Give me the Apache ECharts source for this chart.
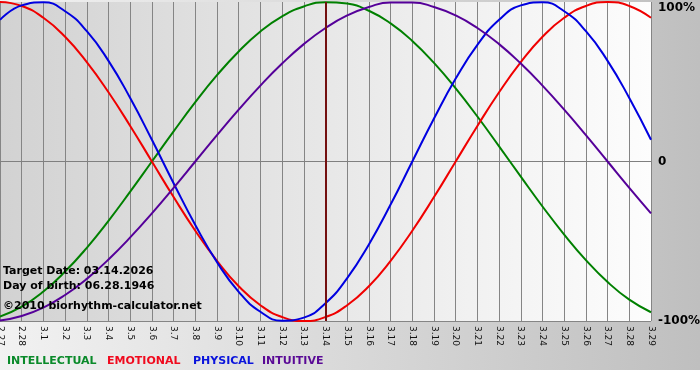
<!DOCTYPE html>
<html>
<head>
<meta charset="utf-8">
<script src="https://cdn.jsdelivr.net/npm/echarts@6/dist/echarts.min.js"></script>
<style>
  html, body { margin: 0; padding: 0; background: #fff; }
  #chart { width: 700px; height: 380px; }
</style>
</head>
<body>
<div id="chart"></div>
<script>
// days shown on the x axis (month.day)
var days = ['2.27', '2.28', '3.1', '3.2', '3.3', '3.4', '3.5', '3.6', '3.7', '3.8', '3.9', '3.10',
  '3.11', '3.12', '3.13', '3.14', '3.15', '3.16', '3.17', '3.18', '3.19', '3.20', '3.21', '3.22',
  '3.23', '3.24', '3.25', '3.26', '3.27', '3.28', '3.29'];
var targetDay = '3.14';

// cycle values in percent, one per day
var intellectual = [-97.2, -91.0, -81.5, -69.0, -54.1, -37.2, -18.9, 0, 18.9, 37.2, 54.1, 69.0,
  81.5, 91.0, 97.2, 99.9, 99.0, 94.5, 86.6, 75.6, 61.8, 45.8, 28.2, 9.5, -9.5, -28.2, -45.8,
  -61.8, -75.6, -86.6, -94.5];
var emotional = [100, 97.5, 90.1, 78.2, 62.3, 43.4, 22.3, 0, -22.3, -43.4, -62.3, -78.2, -90.1,
  -97.5, -100, -97.5, -90.1, -78.2, -62.3, -43.4, -22.3, 0, 22.3, 43.4, 62.3, 78.2, 90.1, 97.5,
  100, 97.5, 90.1];
var physical = [88.8, 97.9, 99.8, 94.2, 81.7, 63.1, 39.8, 13.6, -13.6, -39.8, -63.1, -81.7,
  -94.2, -99.8, -97.9, -88.8, -73.1, -52.0, -27.0, 0, 27.0, 52.0, 73.1, 88.8, 97.9, 99.8, 94.2,
  81.7, 63.1, 39.8, 13.6];
var intuitive = [-99.7, -96.9, -91.6, -83.7, -73.6, -61.4, -47.6, -32.5, -16.5, 0, 16.5, 32.5,
  47.6, 61.4, 73.6, 83.7, 91.6, 96.9, 99.7, 99.7, 96.9, 91.6, 83.7, 73.6, 61.4, 47.6, 32.5, 16.5,
  0, -16.5, -32.5];

var infoLines = ['Target Date: 03.14.2026', 'Day of birth: 06.28.1946', '\u00a92010 biorhythm-calculator.net'];

var chart = echarts.init(document.getElementById('chart'));
var font = '"DejaVu Sans", Verdana, sans-serif';

function line(name, color, data) {
  return {
    name: name,
    type: 'line',
    data: data,
    smooth: true,
    symbol: 'none',
    lineStyle: { color: color, width: 2 },
    itemStyle: { color: color }
  };
}

var series = [
  line('INTELLECTUAL', '#008000', intellectual),
  line('EMOTIONAL', '#f00000', emotional),
  line('PHYSICAL', '#0000e0', physical),
  line('INTUITIVE', '#550099', intuitive)
];
// today marker
series[1].markLine = {
  silent: true,
  symbol: 'none',
  label: { show: false },
  lineStyle: { color: '#731010', width: 2, type: 'solid' },
  data: [{ xAxis: targetDay }]
};

var legendItems = [
  { text: 'INTELLECTUAL', color: '#0a8a2a', x: 7 },
  { text: 'EMOTIONAL', color: '#f00a1e', x: 107 },
  { text: 'PHYSICAL', color: '#0a14dc', x: 193 },
  { text: 'INTUITIVE', color: '#5a0a96', x: 262 }
];

var graphics = [{
  type: 'rect',
  z: -100,
  silent: true,
  shape: { x: 0, y: 0, width: 700, height: 370 },
  style: {
    fill: new echarts.graphic.LinearGradient(0, 0, 1, 0, [
      { offset: 0, color: '#f2f2f2' },
      { offset: 1, color: '#bfbfbf' }
    ])
  }
}];
legendItems.forEach(function(it) {
  graphics.push({
    type: 'text', left: it.x, top: 356, z: 100,
    style: { text: it.text, fill: it.color, font: 'bold 11px ' + font }
  });
});
[266, 281, 301].forEach(function(y, i) {
  graphics.push({
    type: 'text', left: 3, top: y, z: 100,
    style: { text: infoLines[i], fill: '#000', font: 'bold 11px ' + font }
  });
});

chart.setOption({
  animation: false,
  backgroundColor: '#fff',
  graphic: graphics,
  grid: {
    left: 0, right: 49, top: 2, bottom: 59,
    outerBoundsMode: 'none',
    show: true,
    borderWidth: 0,
    backgroundColor: new echarts.graphic.LinearGradient(0, 0, 1, 0, [
      { offset: 0, color: '#d2d2d2' },
      { offset: 1, color: '#fdfdfd' }
    ])
  },
  xAxis: {
    type: 'category',
    data: days,
    boundaryGap: false,
    axisLine: { lineStyle: { color: '#808080', width: 1 } },
    axisTick: { show: true, length: 3, interval: 0, lineStyle: { color: '#808080' } },
    axisLabel: { interval: 0, rotate: -90, margin: 5, fontSize: 9, color: '#111', fontFamily: font },
    splitLine: { show: true, interval: 0, lineStyle: { color: '#858585', width: 1 } }
  },
  yAxis: {
    type: 'value',
    position: 'right',
    min: -100, max: 100, interval: 100,
    axisLine: { show: false },
    axisTick: { show: false },
    axisLabel: {
      margin: 7,
      color: '#000',
      fontWeight: 'bold',
      fontSize: 12,
      fontFamily: font,
      verticalAlignMaxLabel: 'top',
      formatter: function(v) { return v === 0 ? '0' : v + '%'; }
    },
    splitLine: { show: true, lineStyle: { color: ['#858585', '#858585', 'rgba(0,0,0,0)'], width: 1 } }
  },
  series: series
});
</script>
</body>
</html>
